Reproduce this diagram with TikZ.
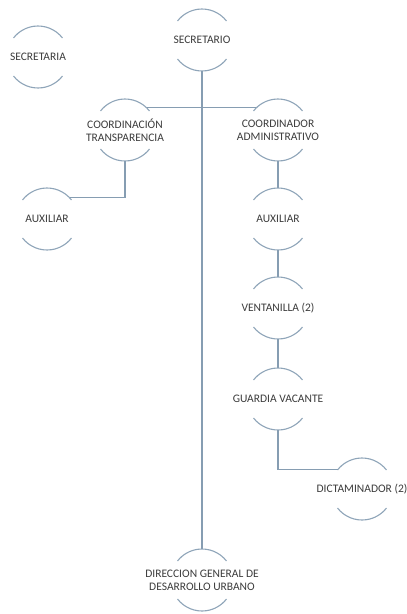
\documentclass[tikz,border=0pt]{standalone}
\usepackage{fontspec}
\setmainfont{Carlito}
\definecolor{linec}{HTML}{869DB2}
\definecolor{arcc}{HTML}{8FA5B9}
\definecolor{txtc}{HTML}{3C3C3C}
\begin{document}
\begin{tikzpicture}[x=1pt,y=1pt,
  ring/.style={circle,minimum size=62pt,inner sep=0pt,outer sep=0pt,draw=none},
  lbl/.style={text=txtc,font=\fontsize{11.5}{13}\selectfont,align=center,inner sep=0pt},
  conn/.style={draw=linec,line width=1.15pt},
  arcline/.style={draw=arcc,line width=1.1pt}]
\useasboundingbox[fill=white] (0,0) rectangle (407,-614);
% rings
\node[ring] (sec)  at (202,-40)  {};
\node[ring] (seca) at (38,-57)   {};
\node[ring] (ct)   at (125,-130) {};
\node[ring] (ca)   at (278,-130) {};
\node[ring] (aux1) at (47,-219)  {};
\node[ring] (aux2) at (278,-219) {};
\node[ring] (ven)  at (278,-308) {};
\node[ring] (gua)  at (278,-399) {};
\node[ring] (dic)  at (362,-489) {};
\node[ring] (dg)   at (202,-580) {};
% arcs
\foreach \n in {sec,seca,ct,ca,aux1,aux2,ven,gua,dic,dg}{
  \draw[arcline] (\n.38) arc[start angle=38,end angle=142,radius=31pt];
  \draw[arcline] (\n.218) arc[start angle=218,end angle=322,radius=31pt];
}
% labels
\node[lbl] (tsec)  at (sec)  {SECRETARIO};
\node[lbl] (tseca) at (seca) {SECRETARIA};
\node[lbl] (tct)   at (ct)   {COORDINACIÓN\\TRANSPARENCIA};
\node[lbl] (tca)   at (ca)   {COORDINADOR\\ADMINISTRATIVO};
\node[lbl] (taux1) at (aux1) {AUXILIAR};
\node[lbl] (taux2) at (aux2) {AUXILIAR};
\node[lbl] (tven)  at (ven)  {VENTANILLA (2)};
\node[lbl] (tgua)  at (gua)  {GUARDIA VACANTE};
\node[lbl] (tdic)  at (dic)  {DICTAMINADOR (2)};
\node[lbl] (tdg)   at (dg)   {DIRECCION GENERAL DE\\DESARROLLO URBANO};
% connectors
\draw[conn] (sec.south) -- (dg.north);
\draw[conn] (ct.46) -- (ca.134);
\draw[conn] (ct.south) |- (aux1.43);
\draw[conn] (ca.south) -- (aux2.north);
\draw[conn] (aux2.south) -- (ven.north);
\draw[conn] (ven.south) -- (gua.north);
\draw[conn] (gua.south) |- (dic.142);
\end{tikzpicture}
\end{document}
